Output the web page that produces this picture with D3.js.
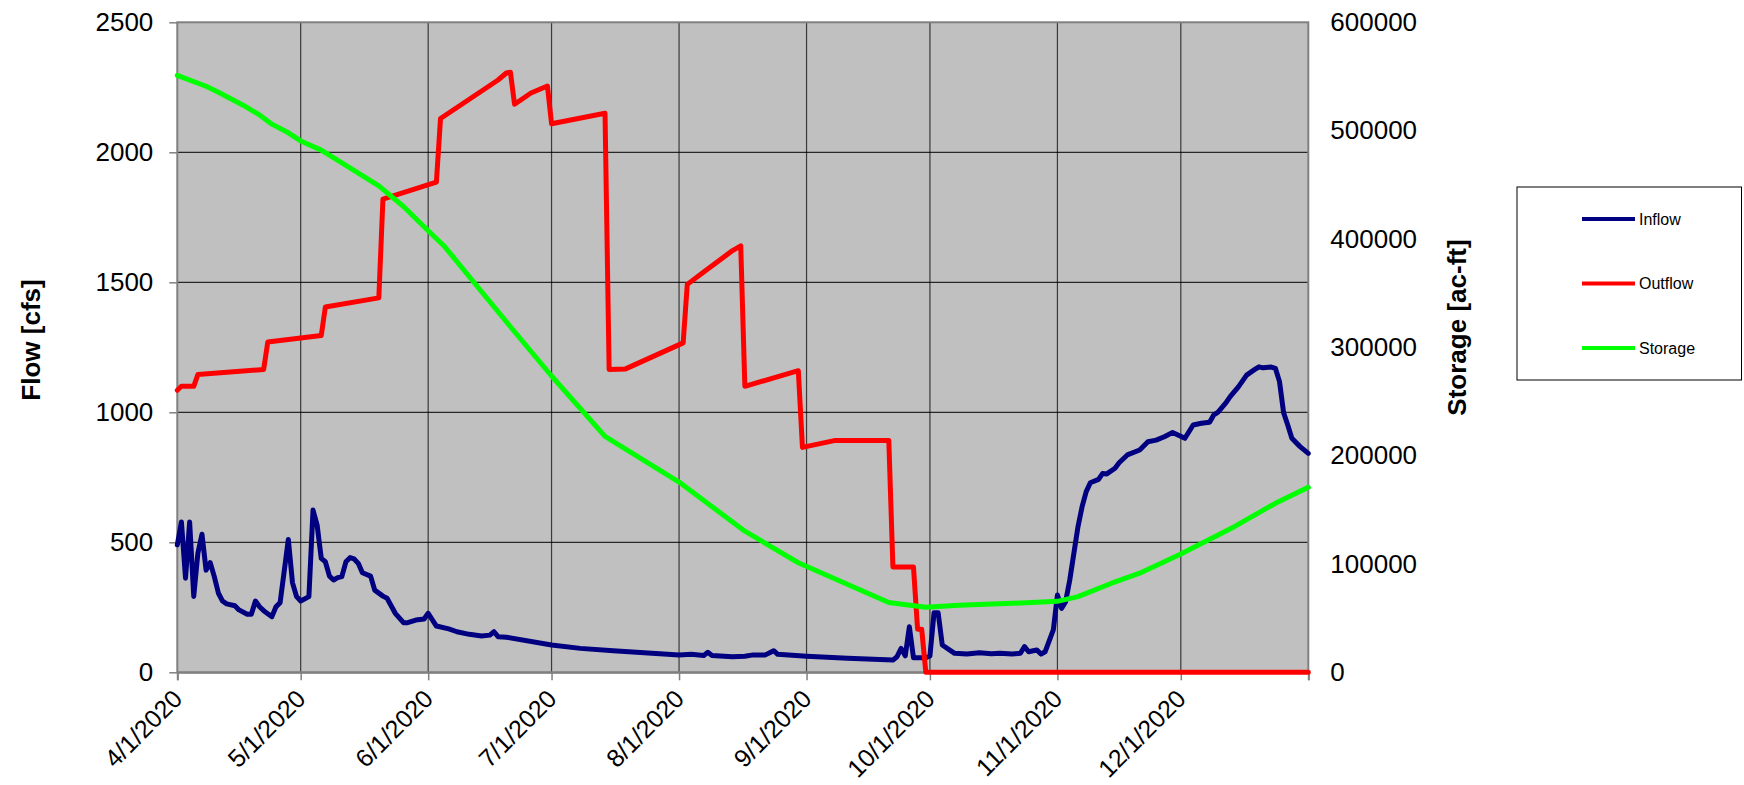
<!DOCTYPE html>
<html>
<head>
<meta charset="utf-8">
<script src="https://cdn.jsdelivr.net/npm/d3@7"></script>
<style>
  body { margin: 0; background: #fff; }
  svg { display: block; }
  text { font-family: "Liberation Sans", Arial, sans-serif; fill: #000; }
</style>
</head>
<body>
<svg id="chart" width="1744" height="785"></svg>
<script>
// ---- Data ----------------------------------------------------------------
const monthTicks = ["4/1/2020","5/1/2020","6/1/2020","7/1/2020","8/1/2020",
                    "9/1/2020","10/1/2020","11/1/2020","12/1/2020"];
const axisEnd = "1/1/2021";

const flowTicks = [0, 500, 1000, 1500, 2000, 2500];
const storageTicks = [0, 100000, 200000, 300000, 400000, 500000, 600000];

const inflowDates = [
  "4/1/2020","4/2/2020","4/3/2020","4/4/2020","4/5/2020","4/6/2020","4/7/2020","4/8/2020",
  "4/9/2020","4/10/2020","4/11/2020","4/12/2020","4/13/2020","4/15/2020","4/16/2020","4/18/2020",
  "4/19/2020","4/20/2020","4/21/2020","4/22/2020","4/24/2020","4/25/2020","4/26/2020","4/28/2020",
  "4/29/2020","4/30/2020","5/1/2020","5/3/2020","5/4/2020","5/5/2020","5/6/2020","5/7/2020",
  "5/8/2020","5/9/2020","5/10/2020","5/11/2020","5/12/2020","5/13/2020","5/14/2020","5/15/2020",
  "5/16/2020","5/18/2020","5/19/2020","5/21/2020","5/22/2020","5/24/2020","5/26/2020","5/27/2020",
  "5/29/2020","5/31/2020","6/1/2020","6/3/2020","6/6/2020","6/8/2020","6/11/2020","6/14/2020",
  "6/16/2020","6/17/2020","6/18/2020","6/20/2020","7/1/2020","7/8/2020","7/16/2020","8/1/2020",
  "8/4/2020","8/7/2020","8/8/2020","8/9/2020","8/14/2020","8/17/2020","8/19/2020","8/22/2020",
  "8/24/2020","8/25/2020","9/1/2020","9/11/2020","9/22/2020","9/23/2020","9/24/2020","9/25/2020",
  "9/26/2020","9/27/2020","9/30/2020","10/1/2020","10/2/2020","10/3/2020","10/4/2020","10/7/2020",
  "10/10/2020","10/13/2020","10/16/2020","10/18/2020","10/21/2020","10/23/2020","10/24/2020","10/25/2020",
  "10/27/2020","10/28/2020","10/29/2020","10/31/2020","11/1/2020","11/2/2020","11/3/2020","11/4/2020",
  "11/6/2020","11/7/2020","11/8/2020","11/9/2020","11/11/2020","11/12/2020","11/13/2020","11/15/2020",
  "11/16/2020","11/18/2020","11/21/2020","11/23/2020","11/25/2020","11/27/2020","11/29/2020","12/2/2020",
  "12/4/2020","12/6/2020","12/8/2020","12/9/2020","12/10/2020","12/12/2020","12/13/2020","12/15/2020",
  "12/17/2020","12/19/2020","12/20/2020","12/21/2020","12/23/2020","12/24/2020","12/25/2020","12/26/2020",
  "12/27/2020","12/28/2020","12/30/2020","1/1/2021"
];
const inflowValues = [
  490, 578, 362, 578, 292, 458, 531, 393,
  422, 368, 304, 274, 263, 256, 240, 223,
  223, 274, 252, 237, 214, 252, 268, 511,
  345, 291, 274, 291, 624, 566, 438, 425,
  370, 355, 364, 368, 425, 441, 436, 419,
  383, 370, 316, 293, 285, 227, 191, 191,
  201, 205, 227, 178, 167, 156, 146, 140,
  143, 156, 137, 135, 105, 92, 83, 67,
  69, 65, 77, 65, 60, 62, 67, 67,
  83, 69, 62, 54, 47, 60, 92, 63,
  175, 56, 56, 63, 229, 229, 105, 73,
  70, 75, 71, 73, 70, 73, 99, 79,
  86, 70, 79, 163, 297, 246, 272, 355,
  560, 637, 695, 729, 742, 765, 763, 785,
  806, 836, 855, 887, 893, 906, 922, 900,
  951, 958, 962, 990, 1000, 1037, 1060, 1098,
  1143, 1165, 1175, 1171, 1174, 1169, 1118, 998,
  951, 900, 868, 842
];

const outflowDates = [
  "4/1/2020","4/2/2020","4/5/2020","4/6/2020","4/22/2020","4/23/2020","5/6/2020","5/7/2020",
  "5/20/2020","5/21/2020","6/3/2020","6/4/2020","6/18/2020","6/20/2020","6/21/2020","6/22/2020",
  "6/26/2020","6/30/2020","7/1/2020","7/14/2020","7/15/2020","7/19/2020","8/2/2020","8/3/2020",
  "8/7/2020","8/14/2020","8/16/2020","8/17/2020","8/30/2020","8/31/2020","9/8/2020","9/21/2020",
  "9/22/2020","9/27/2020","9/28/2020","9/29/2020","9/30/2020","1/1/2021"
];
const outflowValues = [
  1085, 1100, 1100, 1145, 1165, 1270, 1295, 1405,
  1440, 1820, 1885, 2130, 2278, 2305, 2308, 2185,
  2228, 2255, 2110, 2150, 1165, 1167, 1267, 1492,
  1540, 1622, 1640, 1100, 1160, 865, 892, 892,
  405, 405, 166, 166, 0, 0
];

const storageDates = [
  "4/1/2020","4/8/2020","4/11/2020","4/17/2020","4/21/2020","4/24/2020","4/28/2020","5/1/2020",
  "5/6/2020","5/12/2020","5/20/2020","5/26/2020","6/1/2020","6/5/2020","6/12/2020","6/21/2020",
  "7/1/2020","7/14/2020","8/1/2020","8/17/2020","8/30/2020","9/21/2020","9/30/2020","10/8/2020",
  "10/21/2020","11/1/2020","11/6/2020","11/14/2020","11/21/2020","12/1/2020","12/14/2020","12/24/2020",
  "1/1/2021"
];
const storageValues = [
  551000, 541000, 535500, 523500, 514500, 506000, 498000, 490500,
  482000, 468000, 449000, 430000, 407500, 393000, 360500, 319000,
  273500, 217700, 175600, 130300, 101100, 64500, 60000, 62000,
  63700, 65500, 69800, 82000, 91500, 109200, 134400, 156000,
  170800
];

const seriesNames = ["Inflow", "Outflow", "Storage"];
const seriesColors = ["#000080", "#FF0000", "#00FF00"];

// ---- Layout ----------------------------------------------------------------
const parse = d3.utcParse("%m/%d/%Y");
const fmt = d3.utcFormat("%-m/%-d/%Y");
const plot = { left: 177.3, right: 1308.3, top: 22.3, bottom: 672.3 };

const svg = d3.select("#chart");

const x = d3.scaleUtc()
  .domain([parse(monthTicks[0]), parse(axisEnd)])
  .range([plot.left, plot.right]);
const yFlow = d3.scaleLinear().domain([0, 2500]).range([plot.bottom, plot.top]);
const yStorage = d3.scaleLinear().domain([0, 600000]).range([plot.bottom, plot.top]);

// plot background
svg.append("rect")
  .attr("x", plot.left).attr("y", plot.top)
  .attr("width", plot.right - plot.left).attr("height", plot.bottom - plot.top)
  .attr("fill", "#C0C0C0");

// vertical month gridlines
svg.append("g").selectAll("line")
  .data(monthTicks.slice(1).map(parse))
  .join("line")
  .attr("x1", d => x(d)).attr("x2", d => x(d))
  .attr("y1", plot.top).attr("y2", plot.bottom)
  .attr("stroke", "#3a3a3a").attr("stroke-width", 1.2);

// horizontal flow gridlines
svg.append("g").selectAll("line")
  .data(flowTicks.slice(1, -1))
  .join("line")
  .attr("x1", plot.left).attr("x2", plot.right)
  .attr("y1", d => yFlow(d)).attr("y2", d => yFlow(d))
  .attr("stroke", "#000").attr("stroke-width", 1);

// plot frame
svg.append("rect")
  .attr("x", plot.left).attr("y", plot.top)
  .attr("width", plot.right - plot.left).attr("height", plot.bottom - plot.top)
  .attr("fill", "none").attr("stroke", "#808080").attr("stroke-width", 2);

// ---- Axes -----------------------------------------------------------------
const xAxis = svg.append("g")
  .attr("transform", `translate(0,${plot.bottom})`)
  .call(d3.axisBottom(x)
    .tickValues(monthTicks.map(parse).concat([parse(axisEnd)]))
    .tickFormat(d => fmt(d) === axisEnd ? "" : fmt(d))
    .tickSize(8));
xAxis.select(".domain").attr("stroke", "#808080").attr("stroke-width", 2);
xAxis.selectAll(".tick line").attr("stroke", "#808080").attr("stroke-width", 1.5);
xAxis.selectAll(".tick text")
  .attr("x", 0).attr("y", 0).attr("dy", null)
  .attr("text-anchor", "end")
  .attr("transform", "translate(6,28) rotate(-45)")
  .style("font-size", "25px");

const yAxisL = svg.append("g")
  .attr("transform", `translate(${plot.left},0)`)
  .call(d3.axisLeft(yFlow).tickValues(flowTicks).tickFormat(d3.format("d"))
    .tickSize(8).tickPadding(16));
yAxisL.select(".domain").remove();
yAxisL.selectAll(".tick line").attr("stroke", "#808080").attr("stroke-width", 1.5);
yAxisL.selectAll(".tick text").style("font-size", "26px");

const yAxisR = svg.append("g")
  .attr("transform", `translate(${plot.right},0)`)
  .call(d3.axisRight(yStorage).tickValues(storageTicks).tickFormat(d3.format("d"))
    .tickSize(0).tickPadding(22));
yAxisR.select(".domain").remove();
yAxisR.selectAll(".tick text").style("font-size", "26px");

svg.selectAll(".tick text").attr("fill", "#000").style("font-family", '"Liberation Sans", Arial, sans-serif');

// axis titles
svg.append("text")
  .attr("transform", "translate(31,340) rotate(-90)")
  .attr("text-anchor", "middle").attr("dominant-baseline", "central")
  .style("font-size", "26px").style("font-weight", "bold")
  .text("Flow [cfs]");
svg.append("text")
  .attr("transform", "translate(1457,327.5) rotate(-90)")
  .attr("text-anchor", "middle").attr("dominant-baseline", "central")
  .style("font-size", "26px").style("font-weight", "bold")
  .text("Storage [ac-ft]");

// ---- Series ---------------------------------------------------------------
const zip = (dates, vals) => dates.map((d, i) => ({ date: parse(d), value: vals[i] }));
const flowLine = d3.line().x(d => x(d.date)).y(d => yFlow(d.value));
const storageLine = d3.line().x(d => x(d.date)).y(d => yStorage(d.value));

const series = svg.append("g")
  .attr("fill", "none").attr("stroke-width", 5)
  .attr("stroke-linejoin", "round").attr("stroke-linecap", "round");
series.append("path").attr("d", flowLine(zip(inflowDates, inflowValues))).attr("stroke", seriesColors[0]);
series.append("path").attr("d", flowLine(zip(outflowDates, outflowValues))).attr("stroke", seriesColors[1]);
series.append("path").attr("d", storageLine(zip(storageDates, storageValues))).attr("stroke", seriesColors[2]);

// ---- Legend ---------------------------------------------------------------
const legend = svg.append("g");
legend.append("rect")
  .attr("x", 1517).attr("y", 187).attr("width", 224.5).attr("height", 193)
  .attr("fill", "#fff").attr("stroke", "#000").attr("stroke-width", 1);
const legendY = d3.scalePoint().domain(seriesNames).range([219, 348]);
seriesNames.forEach((name, i) => {
  legend.append("line")
    .attr("x1", 1582).attr("x2", 1635)
    .attr("y1", legendY(name)).attr("y2", legendY(name))
    .attr("stroke", seriesColors[i]).attr("stroke-width", 4);
  legend.append("text")
    .attr("x", 1639).attr("y", legendY(name))
    .attr("dominant-baseline", "central")
    .style("font-size", "16px")
    .text(name);
});
</script>
</body>
</html>
